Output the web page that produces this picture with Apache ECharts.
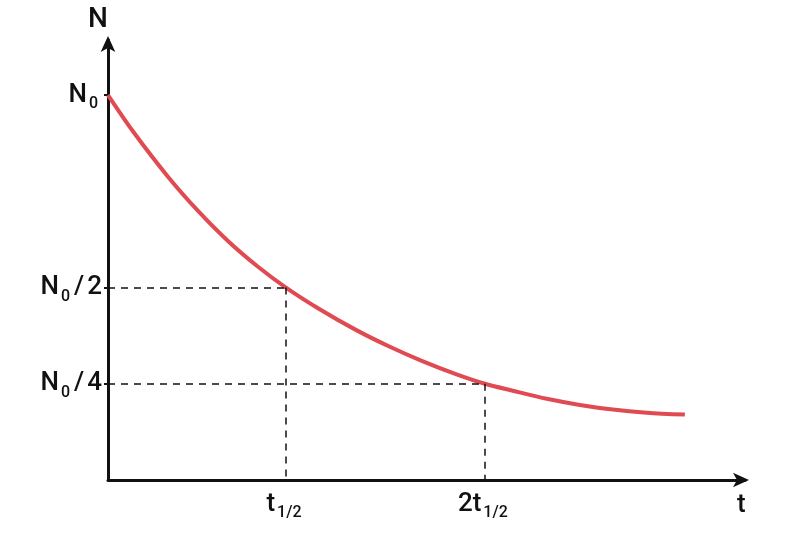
<!DOCTYPE html>
<html>
<head>
<meta charset="utf-8">
<script src="https://cdn.jsdelivr.net/npm/echarts@6/dist/echarts.min.js"></script>
<style>
  html, body { margin: 0; padding: 0; background: #fff; }
  #chart { width: 800px; height: 533px; }
</style>
</head>
<body>
<div id="chart"></div>
<script>
// t 以半衰期为单位, N 以 N0 为单位
var tValues = [0, 0.14, 0.337, 0.506, 0.674, 0.843, 1.0, 1.185, 1.393, 1.584, 1.77, 1.955, 2.118, 2.275, 2.466, 2.652, 2.837, 3.028, 3.242];
var nValues = [1.0, 0.906, 0.788, 0.699, 0.621, 0.554, 0.5, 0.445, 0.39, 0.346, 0.308, 0.275, 0.25, 0.232, 0.211, 0.195, 0.183, 0.175, 0.17];

// 坐标轴上的标记
var xTickValues = [1.0, 2.118];
var xTickLabels = ['{m|t}{s|1/2}', '{m|2t}{s|1/2}'];
var yTickValues = [1.0, 0.5, 0.25];
var yTickLabels = ['{m|N}{s|0}', '{m|N}{s|0}{g|/}{m|2}', '{m|N}{s|0}{g|/}{m|4}'];

// 虚线参考点 (t, N)
var guidePoints = [[1.0, 0.5], [2.118, 0.25]];

var FONT = 'Roboto';
var richStyle = {
    m: { fontFamily: FONT, fontSize: 26, fontWeight: 500, color: '#111', verticalAlign: 'bottom' },
    g: { fontFamily: FONT, fontSize: 26, fontWeight: 500, color: '#111', verticalAlign: 'bottom', padding: [0, 3, 0, 0] },
    s: { fontFamily: FONT, fontSize: 16, fontWeight: 500, color: '#111', verticalAlign: 'bottom', padding: [0, 4, -4, 2] }
};

var chart = echarts.init(document.getElementById('chart'));

var curve = tValues.map(function (t, i) { return [t, nValues[i]]; });

var guides = [];
guidePoints.forEach(function (p) {
    guides.push([{ coord: [0, p[1]] }, { coord: [p[0], p[1]] }]);
    guides.push([{ coord: [p[0], p[1]] }, { coord: [p[0], 0] }]);
});

var option = {
    backgroundColor: '#fff',
    animation: false,
    grid: { left: 108, right: 55, top: 40, bottom: 53, outerBoundsMode: 'none' },
    xAxis: {
        type: 'value',
        min: 0,
        max: 3.58,
        name: 't',
        nameLocation: 'end',
        nameGap: -8,
        nameTextStyle: { fontFamily: FONT, fontSize: 26, fontWeight: 500, color: '#111', verticalAlign: 'top', padding: [12, 0, 0, 0] },
        splitLine: { show: false },
        axisLine: { lineStyle: { color: '#111', width: 3 }, symbol: ['none', 'arrow'], symbolSize: [11, 16], symbolOffset: [0, 4] },
        axisTick: { show: false },
        axisLabel: {
            customValues: xTickValues,
            formatter: function (v) { return xTickLabels[xTickValues.indexOf(v)]; },
            margin: 11,
            rich: richStyle
        }
    },
    yAxis: {
        type: 'value',
        min: 0,
        max: 1.143,
        name: 'N',
        nameLocation: 'end',
        nameGap: 6,
        nameTextStyle: { fontFamily: FONT, fontSize: 28, fontWeight: 500, color: '#111', align: 'center', padding: [0, 20, 0, 0] },
        splitLine: { show: false },
        axisLine: { lineStyle: { color: '#111', width: 3 }, symbol: ['none', 'arrow'], symbolSize: [11, 16], symbolOffset: [0, 4] },
        axisTick: {
            customValues: yTickValues,
            length: 4,
            lineStyle: { color: '#111', width: 2 }
        },
        axisLabel: {
            customValues: yTickValues,
            formatter: function (v) { return yTickLabels[yTickValues.indexOf(v)]; },
            margin: 6,
            rich: richStyle
        }
    },
    series: [{
        type: 'line',
        data: curve,
        smooth: 0.3,
        showSymbol: false,
        lineStyle: { color: '#e04a52', width: 4 },
        z: 3,
        markLine: {
            silent: true,
            symbol: ['none', 'none'],
            label: { show: false },
            lineStyle: { color: '#111', type: [7, 6], width: 1.5 },
            data: guides
        }
    }]
};
chart.setOption(option);
</script>
</body>
</html>
